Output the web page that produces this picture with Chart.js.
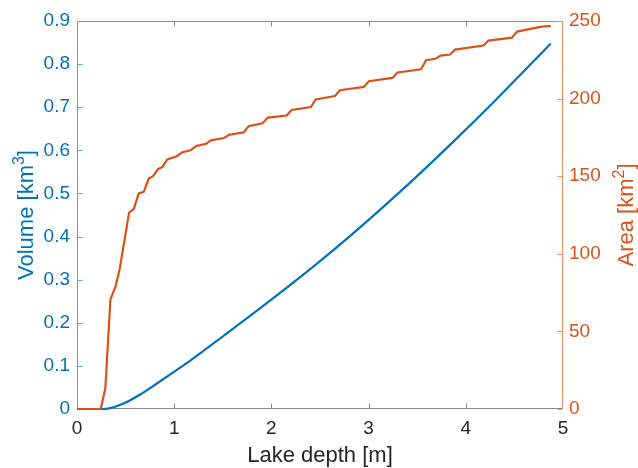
<!DOCTYPE html>
<html>
<head>
<meta charset="utf-8">
<script src="https://cdn.jsdelivr.net/npm/chart.js@4.4.1/dist/chart.umd.min.js"></script>
<style>
  html, body { margin: 0; padding: 0; background: #ffffff; }
  #wrap { width: 638px; height: 468px; position: relative; }
</style>
</head>
<body>
<div id="wrap"><canvas id="c" width="638" height="468"></canvas></div>
<script>
// ---- data ----
const depthArea = [0, 0.244, 0.292, 0.344, 0.395, 0.440, 0.536, 0.584, 0.635, 0.687, 0.738, 0.783, 0.834, 0.880, 0.929, 1.027, 1.078, 1.174, 1.226, 1.325, 1.377, 1.513, 1.565, 1.714, 1.765, 1.909, 1.963, 2.157, 2.208, 2.407, 2.455, 2.654, 2.705, 2.951, 3.002, 3.246, 3.298, 3.540, 3.591, 3.689, 3.741, 3.838, 3.890, 4.181, 4.233, 4.474, 4.528, 4.755, 4.817, 4.875];
const areaValues = [0, 0, 13.5, 70.6, 78.7, 90.6, 126.6, 128.8, 138.9, 139.9, 148.5, 150.0, 154.5, 156.0, 160.8, 162.9, 165.3, 166.9, 169.5, 170.8, 173.1, 174.6, 176.7, 178.2, 182.2, 184.1, 187.8, 189.1, 192.7, 194.6, 199.4, 201.7, 205.4, 207.5, 211.2, 213.3, 216.8, 218.9, 224.7, 225.7, 227.7, 228.4, 231.6, 234.2, 237.4, 239.3, 243.2, 246.0, 246.6, 246.7];
const depthVolume = [0, 0.25, 0.32, 0.474, 0.65, 0.818, 1.0, 1.161, 1.504, 1.848, 2.122, 2.466, 2.808, 3.151, 3.46, 3.835, 4.295, 4.875];
const volumeValues = [0, 0, 0.001, 0.012, 0.0335, 0.0585, 0.0865, 0.1115, 0.169, 0.2275, 0.275, 0.3365, 0.401, 0.469, 0.532, 0.612, 0.714, 0.848];
const depthTicks = [0, 1, 2, 3, 4, 5];
const volumeTicks = [0, 0.1, 0.2, 0.3, 0.4, 0.5, 0.6, 0.7, 0.8, 0.9];
const areaTicks = [0, 50, 100, 150, 200, 250];
const xTitle = 'Lake depth [m]';
const volumeTitle = ['Volume [km', '3', ']'];
const areaTitle = ['Area [km', '2', ']'];

const BLUE = '#0072BD';
const ORANGE = '#D95319';
const FONT = '"Liberation Sans", Arial, Helvetica, sans-serif';

function setTicks(arr) {
  return function (scale) { scale.ticks = arr.map(v => ({ value: v })); };
}

function fmtTick(v) {
  return String(Math.round(v * 1000) / 1000);
}

function drawSupTitle(ctx, x, y, parts, color, size) {
  ctx.save();
  ctx.translate(x, y);
  ctx.rotate(-Math.PI / 2);
  ctx.fillStyle = color;
  ctx.textBaseline = 'alphabetic';
  ctx.textAlign = 'left';
  const main = size + 'px ' + FONT;
  const small = Math.round(size * 0.72) + 'px ' + FONT;
  ctx.font = main; const w0 = ctx.measureText(parts[0]).width;
  ctx.font = small; const w1 = ctx.measureText(parts[1]).width;
  ctx.font = main; const w2 = ctx.measureText(parts[2]).width;
  let sx = -(w0 + w1 + w2) / 2;
  ctx.font = main; ctx.fillText(parts[0], sx, 0); sx += w0;
  ctx.font = small; ctx.fillText(parts[1], sx, -size * 0.42); sx += w1;
  ctx.font = main; ctx.fillText(parts[2], sx, 0);
  ctx.restore();
}

const matlabAxes = {
  id: 'matlabAxes',
  beforeDatasetsDraw(chart) {
    const { ctx, chartArea, scales } = chart;
    const L = Math.round(chartArea.left) + 0.5;
    const R = Math.round(chartArea.right) - 0.5;
    const T = Math.round(chartArea.top) + 0.5;
    const B = Math.round(chartArea.bottom) - 0.5;
    const tl = 5;
    ctx.save();
    ctx.lineWidth = 1;
    ctx.strokeStyle = '#8a8a8a';
    ctx.beginPath();
    ctx.moveTo(L, T); ctx.lineTo(R, T);
    ctx.moveTo(L, B); ctx.lineTo(R, B);
    depthTicks.forEach(v => {
      const px = Math.round(scales.x.getPixelForValue(v)) + 0.5;
      if (v === 0 || v === 5) return;
      ctx.moveTo(px, B); ctx.lineTo(px, B - tl);
      ctx.moveTo(px, T); ctx.lineTo(px, T + tl);
    });
    ctx.stroke();
    ctx.strokeStyle = '#5fa0d6';
    ctx.beginPath();
    ctx.moveTo(L, T); ctx.lineTo(L, B);
    volumeTicks.forEach(v => {
      const py = Math.round(scales.y.getPixelForValue(v)) + 0.5;
      ctx.moveTo(L, py); ctx.lineTo(L + tl, py);
    });
    ctx.stroke();
    ctx.strokeStyle = '#e88f66';
    ctx.beginPath();
    ctx.moveTo(R, T); ctx.lineTo(R, B);
    areaTicks.forEach(v => {
      const py = Math.round(scales.y1.getPixelForValue(v)) + 0.5;
      ctx.moveTo(R, py); ctx.lineTo(R - tl, py);
    });
    ctx.stroke();
    ctx.restore();
  },
  afterDraw(chart) {
    const { ctx, chartArea } = chart;
    const cy = (chartArea.top + chartArea.bottom) / 2;
    drawSupTitle(ctx, 33, cy, volumeTitle, BLUE, 22);
    drawSupTitle(ctx, 633, cy, areaTitle, ORANGE, 22);
    ctx.save();
    ctx.fillStyle = '#262626';
    ctx.font = '22px ' + FONT;
    ctx.textAlign = 'center';
    ctx.textBaseline = 'alphabetic';
    ctx.fillText(xTitle, (chartArea.left + chartArea.right) / 2, 462);
    ctx.restore();
  }
};

new Chart(document.getElementById('c'), {
  type: 'line',
  data: {
    datasets: [
      {
        label: 'Volume',
        data: depthVolume.map((d, i) => ({ x: d, y: volumeValues[i] })),
        yAxisID: 'y',
        borderColor: BLUE,
        borderWidth: 2.2,
        pointRadius: 0,
        cubicInterpolationMode: 'monotone',
        fill: false,
        clip: 4,
        order: 2
      },
      {
        label: 'Area',
        data: depthArea.map((d, i) => ({ x: d, y: areaValues[i] })),
        yAxisID: 'y1',
        borderColor: ORANGE,
        borderWidth: 2.2,
        pointRadius: 0,
        tension: 0,
        fill: false,
        clip: 4,
        order: 1
      }
    ]
  },
  options: {
    responsive: false,
    animation: false,
    devicePixelRatio: 1,
    layout: { padding: { top: 21, left: 0, right: 0, bottom: 0 } },
    plugins: { legend: { display: false }, tooltip: { enabled: false } },
    scales: {
      x: {
        type: 'linear', min: 0, max: 5,
        afterBuildTicks: setTicks(depthTicks),
        afterFit: s => { s.height = 59; },
        grid: { display: false, drawTicks: false },
        border: { display: false },
        ticks: { color: '#262626', font: { family: FONT, size: 19 }, padding: 8, callback: fmtTick, maxRotation: 0 }
      },
      y: {
        type: 'linear', position: 'left', min: 0, max: 0.9,
        afterBuildTicks: setTicks(volumeTicks),
        afterFit: s => { s.width = 77; },
        grid: { display: false, drawTicks: false },
        border: { display: false },
        ticks: { color: BLUE, font: { family: FONT, size: 19 }, padding: 7, callback: fmtTick }
      },
      y1: {
        type: 'linear', position: 'right', min: 0, max: 250,
        afterBuildTicks: setTicks(areaTicks),
        afterFit: s => { s.width = 75; },
        grid: { display: false, drawTicks: false },
        border: { display: false },
        ticks: { color: ORANGE, font: { family: FONT, size: 19 }, padding: 6, callback: fmtTick }
      }
    }
  },
  plugins: [matlabAxes]
});
</script>
</body>
</html>
